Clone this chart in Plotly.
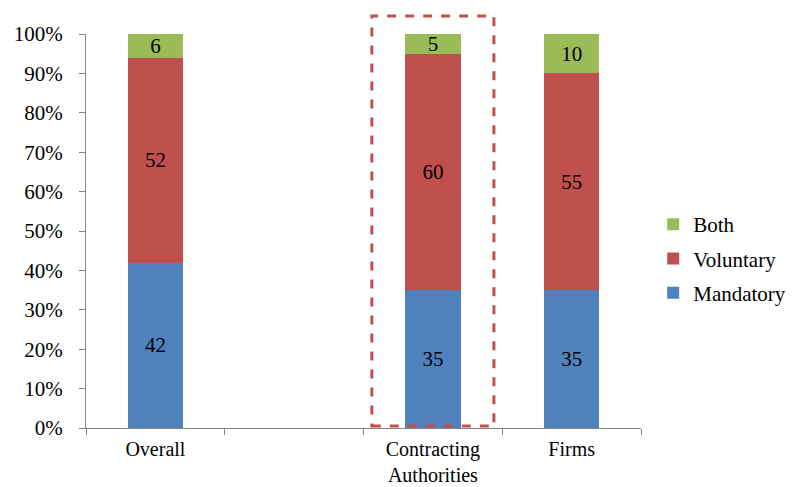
import plotly.graph_objects as go

categories = ["Overall", " ", "Contracting<br>Authorities", "Firms"]
mandatory = [42, None, 35, 35]
voluntary = [52, None, 60, 55]
both = [6, None, 5, 10]
series_names = ["Mandatory", "Voluntary", "Both"]
series_colors = ["#4F81BD", "#C0504D", "#9BBB59"]
legend_ranks = [3, 2, 1]
y_ticks = [0, 10, 20, 30, 40, 50, 60, 70, 80, 90, 100]
y_ticktext = [f"{v}%" for v in y_ticks]
highlight_index = 2

FONT = "Liberation Serif, Times New Roman, serif"
fig = go.Figure()
for name, vals, col, rank in zip(series_names, [mandatory, voluntary, both], series_colors, legend_ranks):
    fig.add_trace(go.Bar(
        x=categories, y=vals, name=name, marker=dict(color=col, line=dict(width=0)),
        text=[("" if v is None else str(v)) for v in vals],
        textposition="inside", insidetextanchor="middle", textangle=0,
        constraintext="none",
        textfont=dict(family=FONT, size=21, color="black"),
        legendgroup=name, legendrank=rank,
    ))

fig.add_shape(type="rect", xref="x", yref="paper",
              x0=highlight_index - 0.44, x1=highlight_index + 0.44, y0=0.005, y1=1.046,
              line=dict(color="#C0504D", width=3, dash="dash"), fillcolor="rgba(0,0,0,0)")

fig.update_layout(
    width=793, height=487, barmode="stack", bargap=0.6,
    margin=dict(l=86, r=152, t=34, b=59, autoexpand=False),
    plot_bgcolor="white", paper_bgcolor="white",
    font=dict(family=FONT, size=21, color="black"),
    showlegend=True,
    legend=dict(traceorder="grouped", x=1.022, xanchor="left", y=0.43, yanchor="middle",
                font=dict(family=FONT, size=21, color="black"), tracegroupgap=4),
)
fig.update_xaxes(showline=True, linecolor="#868686", linewidth=1, ticks="outside",
                 tickson="boundaries", ticklen=6, tickcolor="#868686", automargin=False,
                 ticklabelstandoff=3,
                 tickfont=dict(family=FONT, size=20, color="black"), showgrid=False)
fig.update_yaxes(range=[0, 100], tickvals=y_ticks, ticktext=y_ticktext, showline=True,
                 linecolor="#868686", linewidth=1, ticks="outside", ticklen=6,
                 tickcolor="#868686", showgrid=False, zeroline=False, automargin=False,
                 ticklabelstandoff=12,
                 tickfont=dict(family=FONT, size=21, color="black"))

fig.write_html("out.html")
